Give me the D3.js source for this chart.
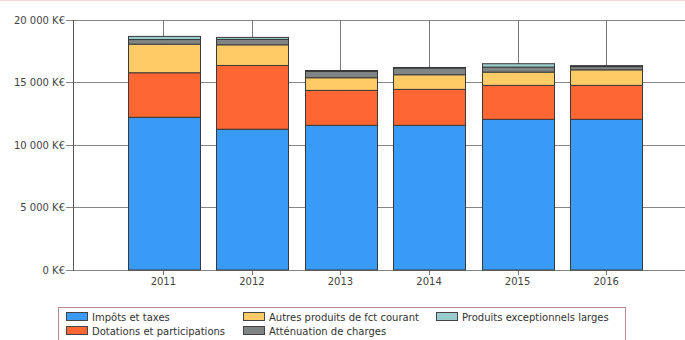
<!DOCTYPE html>
<html lang="fr">
<head>
  <meta charset="UTF-8">
  <script src="https://d3js.org/d3.v7.min.js"></script>
  <title>Produits de fonctionnement</title>
  <style>
    body { margin: 0; background: #fff; }
    svg text { font-family: "DejaVu Sans", Verdana, sans-serif; }
  </style>
</head>
<body>
  <div class="chart"></div>
  <script>
    // données (K€)
    const years = ['2011', '2012', '2013', '2014', '2015', '2016'];
    const impots = [12190, 11240, 11550, 11550, 12030, 12030];
    const dotations = [3560, 5090, 2790, 2870, 2710, 2710];
    const autres = [2280, 1650, 1010, 1170, 1060, 1240];
    const attenuation = [370, 430, 500, 530, 400, 260];
    const exceptionnels = [250, 160, 80, 50, 270, 80];
    const yTicks = [0, 5000, 10000, 15000, 20000];

    const seriesNames = ['Impôts et taxes', 'Dotations et participations', 'Autres produits de fct courant',
      'Atténuation de charges', 'Produits exceptionnels larges'];
    const colors = ['#3a9bf7', '#fe6633', '#fecb66', '#808484', '#99cccc'];

    const width = 685, height = 340;
    const svg = d3.select('.chart').append('svg').attr('width', width).attr('height', height);

    // cadre rose en haut
    svg.append('line').attr('x1', 0).attr('x2', width).attr('y1', 0.5).attr('y2', 0.5)
      .attr('stroke', '#f6d6d6');

    const rows = years.map((y, i) => ({
      year: y, s0: impots[i], s1: dotations[i], s2: autres[i], s3: attenuation[i], s4: exceptionnels[i]
    }));
    const stacked = d3.stack().keys(['s0', 's1', 's2', 's3', 's4'])(rows);

    const x = d3.scaleBand().domain(years).range([127.5, 642]).paddingInner(0.19).paddingOuter(0);
    const y = d3.scaleLinear().domain([0, 20000]).range([270, 19.5]);
    const left = 73;

    // grille horizontale
    svg.append('g').selectAll('line').data(yTicks).join('line')
      .attr('x1', left - 7).attr('x2', width)
      .attr('y1', d => Math.round(y(d)) + 0.5).attr('y2', d => Math.round(y(d)) + 0.5)
      .attr('stroke', '#858585');

    // lignes verticales au centre des catégories
    svg.append('g').selectAll('line').data(years).join('line')
      .attr('x1', d => Math.round(x(d) + x.bandwidth() / 2) + 0.5)
      .attr('x2', d => Math.round(x(d) + x.bandwidth() / 2) + 0.5)
      .attr('y1', Math.round(y(20000)) + 0.5).attr('y2', 275)
      .attr('stroke', '#777');

    // axe gauche
    svg.append('line').attr('x1', left + 0.5).attr('x2', left + 0.5)
      .attr('y1', Math.round(y(20000))).attr('y2', Math.round(y(0)) + 1).attr('stroke', '#555');

    const fmt = d => d3.format(',')(d).replace(/,/g, '\u00a0') + ' K€';
    svg.append('g').selectAll('text').data(yTicks).join('text')
      .attr('x', left - 8).attr('y', d => y(d) + 4)
      .attr('text-anchor', 'end').attr('font-size', 10).attr('fill', '#444')
      .text(fmt);

    // barres empilées
    svg.append('g').selectAll('g').data(stacked).join('g')
      .attr('fill', (d, i) => colors[i])
      .selectAll('rect').data(d => d).join('rect')
      .attr('x', d => Math.round(x(d.data.year)) + 0.5)
      .attr('width', Math.round(x.bandwidth()))
      .attr('y', d => y(d[1]))
      .attr('height', d => y(d[0]) - y(d[1]))
      .attr('stroke', '#3a3a3a').attr('stroke-width', 1);

    // libellés des années
    svg.append('g').selectAll('text').data(years).join('text')
      .attr('x', d => x(d) + x.bandwidth() / 2).attr('y', 285)
      .attr('text-anchor', 'middle').attr('font-size', 10).attr('fill', '#444')
      .text(d => d);

    // légende
    const legend = svg.append('g');
    legend.append('rect').attr('x', 58.5).attr('y', 307.5).attr('width', 567).attr('height', 40)
      .attr('fill', '#fff').attr('stroke', '#b88c8c');
    const legendPos = [[66, 317], [66, 331], [243, 317], [243, 331], [436, 317]];
    const items = legend.selectAll('g').data(seriesNames).join('g')
      .attr('transform', (d, i) => `translate(${legendPos[i][0]},${legendPos[i][1]})`);
    items.append('rect').attr('x', 0.5).attr('y', -4.5).attr('width', 21).attr('height', 8)
      .attr('fill', (d, i) => colors[i]).attr('stroke', '#444');
    items.append('text').attr('x', 26).attr('y', 3.5)
      .attr('font-size', 10).attr('fill', '#333').text(d => d);
  </script>
</body>
</html>
